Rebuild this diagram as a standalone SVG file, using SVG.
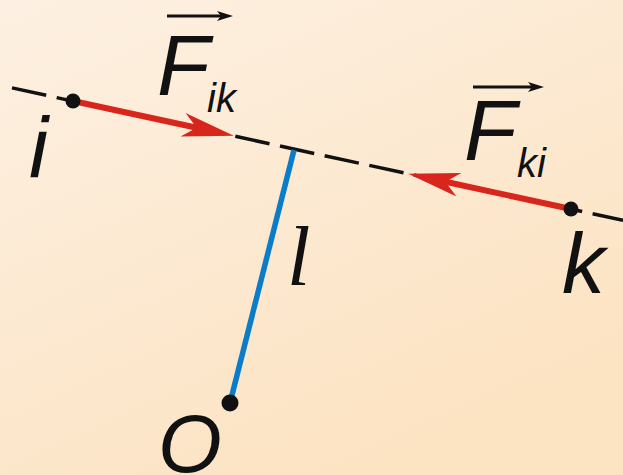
<svg xmlns="http://www.w3.org/2000/svg" width="623" height="475" viewBox="0 0 623 475">
<defs>
<linearGradient id="bg" x1="0" y1="0" x2="0.6" y2="1">
<stop offset="0" stop-color="#fdf0e2"/>
<stop offset="1" stop-color="#fce3c2"/>
</linearGradient>
<marker id="redhead" markerUnits="userSpaceOnUse" viewBox="0 0 52 24" refX="14" refY="12" markerWidth="52" markerHeight="24" orient="auto">
<path d="M0,0 L52,12 L0,24 L14,12 Z" fill="#d8261c"/>
</marker>
<marker id="blackhead" markerUnits="userSpaceOnUse" viewBox="0 0 16 10" refX="4" refY="5" markerWidth="16" markerHeight="10" orient="auto">
<path d="M0,0 L16,5 L0,10 L4,5 Z" fill="#111"/>
</marker>
<style>
.lbl{font-family:"Liberation Sans",Arial,sans-serif;font-style:italic;fill:#111}
.big{font-size:86px}
.sub{font-size:40px}
.dot{fill:#111}
.vec{stroke:#d8261c;stroke-width:6;fill:none}
.over{stroke:#111;stroke-width:3;fill:none}
</style>
</defs>
<rect width="623" height="475" fill="url(#bg)"/>
<g id="connectors">
<line x1="12" y1="87.9" x2="623" y2="220.4" stroke="#111" stroke-width="3.5" stroke-dasharray="35 10.7"/>
<line id="lever" x1="294" y1="150" x2="230" y2="403" stroke="#0b7cc8" stroke-width="5.5"/>
<line id="Fik" class="vec" x1="73" y1="101" x2="196.7" y2="127.7" marker-end="url(#redhead)"/>
<line id="Fki" class="vec" x1="571" y1="209" x2="445.3" y2="181.8" marker-end="url(#redhead)"/>
</g>
<g id="node-i">
<circle class="dot" cx="73" cy="101" r="7.5"/>
<text class="lbl big" x="29" y="177">i</text>
</g>
<g id="node-k">
<circle class="dot" cx="571" cy="209" r="7.5"/>
<text class="lbl big" x="562" y="293">k</text>
</g>
<g id="node-O">
<circle class="dot" cx="230" cy="403" r="8.5"/>
<text class="lbl" font-size="82" x="158" y="472">O</text>
</g>
<g id="label-l">
<text x="287" y="285" font-family="Liberation Serif,'Times New Roman',serif" font-style="italic" font-size="84" fill="#111">l</text>
</g>
<g id="label-Fik">
<line class="over" x1="167" y1="16" x2="221" y2="16" marker-end="url(#blackhead)"/>
<text class="lbl big" x="157" y="95">F</text>
<text class="lbl sub" x="207" y="112">ik</text>
</g>
<g id="label-Fki">
<line class="over" x1="473" y1="87" x2="532" y2="87" marker-end="url(#blackhead)"/>
<text class="lbl big" x="464" y="160">F</text>
<text class="lbl sub" x="517" y="177">ki</text>
</g>
</svg>
